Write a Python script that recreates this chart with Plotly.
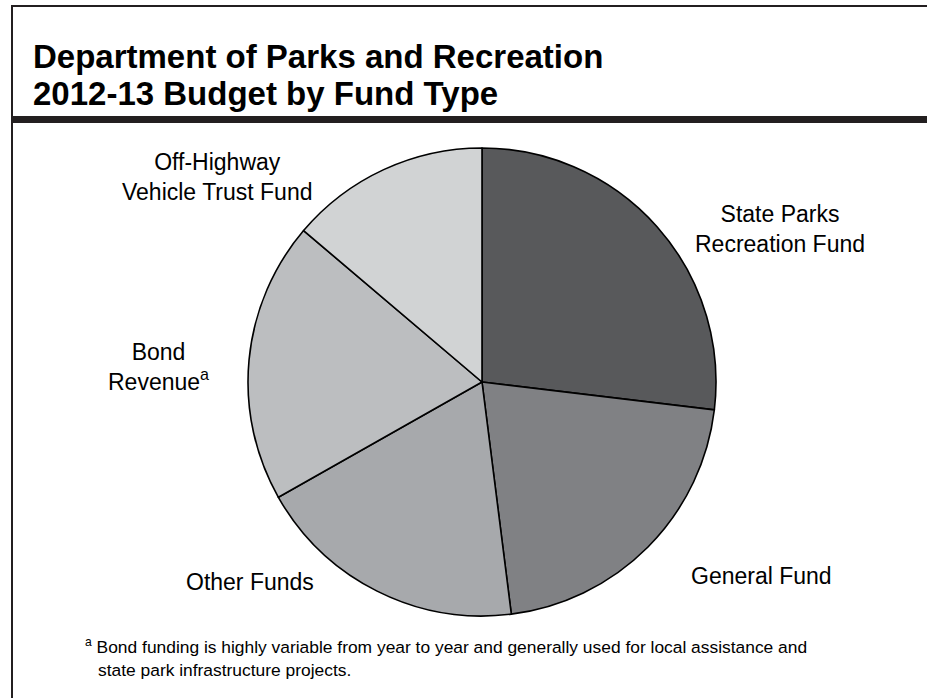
import plotly.graph_objects as go

W, H = 927, 698

categories = ["State Parks Recreation Fund", "General Fund", "Other Funds",
              "Bond Revenue", "Off-Highway Vehicle Trust Fund"]
shares = [26.9, 21.1, 18.8, 19.4, 13.8]
colors = ["#58595b", "#808184", "#a7a9ac", "#bcbec0", "#d1d3d4"]

title_lines = ["Department of Parks and Recreation", "2012-13 Budget by Fund Type"]
footnote_lines = ["Bond funding is highly variable from year to year and generally used for local assistance and",
                  "state park infrastructure projects."]

label_text = {
    "State Parks Recreation Fund": "State Parks<br>Recreation Fund",
    "General Fund": "General Fund",
    "Other Funds": "Other Funds",
    "Bond Revenue": "Bond<br>Revenue<sup>a</sup>",
    "Off-Highway Vehicle Trust Fund": "Off-Highway<br>Vehicle Trust Fund",
}
label_pos = {
    "State Parks Recreation Fund": (780, 229),
    "General Fund": (761, 576),
    "Other Funds": (250, 582),
    "Bond Revenue": (158, 367),
    "Off-Highway Vehicle Trust Fund": (217, 177),
}

FONT = "Liberation Sans, Arial, Helvetica, sans-serif"
cx, cy, r = 482, 382, 234

fig = go.Figure(go.Pie(
    labels=categories,
    values=shares,
    sort=False,
    direction="clockwise",
    rotation=0,
    textinfo="none",
    hoverinfo="label+percent",
    marker=dict(colors=colors, line=dict(color="#000000", width=1.6)),
    domain=dict(x=[(cx - r) / W, (cx + r) / W], y=[1 - (cy + r) / H, 1 - (cy - r) / H]),
    showlegend=False,
))

annotations = []
for c in categories:
    x, y = label_pos[c]
    annotations.append(dict(
        x=x / W, y=1 - y / H, xref="paper", yref="paper",
        text=label_text[c], showarrow=False, align="center",
        xanchor="center", yanchor="middle",
        font=dict(family=FONT, size=23, color="#000000"),
    ))

for txt, y in zip(title_lines, [56, 94]):
    annotations.append(dict(
        x=31 / W, y=1 - y / H, xref="paper", yref="paper",
        text="<b>" + txt + "</b>",
        showarrow=False, align="left", xanchor="left", yanchor="middle",
        font=dict(family=FONT, size=33, color="#000000"),
    ))

annotations.append(dict(
    x=83 / W, y=1 - 646 / H, xref="paper", yref="paper",
    text="<sup>a</sup> " + footnote_lines[0],
    showarrow=False, align="left", xanchor="left", yanchor="middle",
    font=dict(family=FONT, size=17.4, color="#000000"),
))
annotations.append(dict(
    x=96 / W, y=1 - 670 / H, xref="paper", yref="paper",
    text=footnote_lines[1],
    showarrow=False, align="left", xanchor="left", yanchor="middle",
    font=dict(family=FONT, size=17.4, color="#000000"),
))

shapes = [
    dict(type="line", xref="paper", yref="paper", x0=11 / W, x1=1, y0=1 - 6 / H, y1=1 - 6 / H,
         line=dict(color="#231f20", width=2)),
    dict(type="line", xref="paper", yref="paper", x0=12 / W, x1=12 / W, y0=1 - 5 / H, y1=0,
         line=dict(color="#231f20", width=2)),
    dict(type="rect", xref="paper", yref="paper", x0=11 / W, x1=1, y0=1 - 123 / H, y1=1 - 116 / H,
         fillcolor="#231f20", line=dict(width=0)),
]

fig.update_layout(
    width=W, height=H,
    margin=dict(l=0, r=0, t=0, b=0),
    paper_bgcolor="#ffffff", plot_bgcolor="#ffffff",
    annotations=annotations, shapes=shapes,
)

fig.write_html("out.html", config={"displayModeBar": False},
               post_script="document.body.style.margin='0';document.body.style.padding='0';")
